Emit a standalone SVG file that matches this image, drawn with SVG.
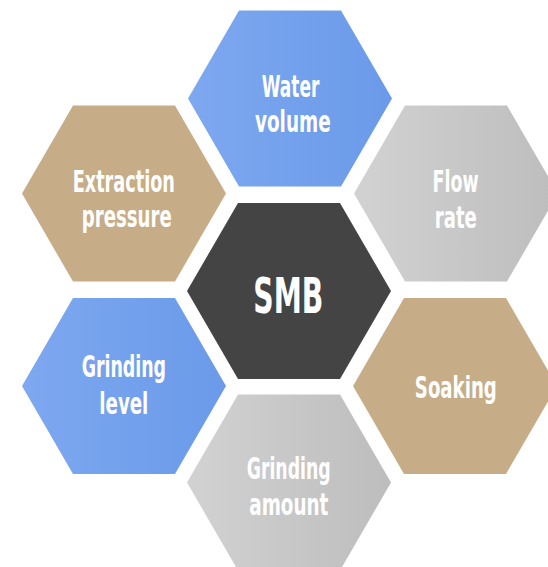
<svg xmlns="http://www.w3.org/2000/svg" xmlns:xlink="http://www.w3.org/1999/xlink" width="548" height="567" viewBox="0 0 548 567">
  <style>
    .lbl { font-family: "DejaVu Sans Condensed", "DejaVu Sans", "Liberation Sans", sans-serif; font-stretch: condensed; font-weight: bold; fill: #ffffff; text-anchor: middle; font-size: 31px; }
    .big { font-size: 50px; }
    .blue { fill: url(#gBlue); }
    .gray { fill: url(#gGray); }
    .tan { fill: #c6ad88; }
    .dark { fill: #444444; }
  </style>
  <defs>
    <linearGradient id="gBlue" x1="0" y1="0" x2="1" y2="0">
      <stop offset="0" stop-color="#7ea8f0"/>
      <stop offset="1" stop-color="#6a9ae9"/>
    </linearGradient>
    <linearGradient id="gGray" x1="0" y1="0" x2="1" y2="0">
      <stop offset="0" stop-color="#d2d2d2"/>
      <stop offset="1" stop-color="#bdbdbd"/>
    </linearGradient>
    <polygon id="hex" points="-102,0 -51,-88 51,-88 102,0 51,88 -51,88"/>
  </defs>
  <rect width="548" height="567" fill="#ffffff"/>

  <g id="connectors"></g>

  <g id="water-volume" transform="translate(290,98.5)">
    <use href="#hex" xlink:href="#hex" class="blue"/>
    <text class="lbl" x="0.5" y="-1.8" textLength="57.6" lengthAdjust="spacingAndGlyphs">Water</text>
    <text class="lbl" x="2.8" y="33.2" textLength="75.7" lengthAdjust="spacingAndGlyphs">volume</text>
  </g>

  <g id="extraction-pressure" transform="translate(124,193.5)">
    <use href="#hex" xlink:href="#hex" class="tan"/>
    <text class="lbl" x="-0.2" y="-1.8" textLength="102.3" lengthAdjust="spacingAndGlyphs">Extraction</text>
    <text class="lbl" x="2.7" y="33.2" textLength="90" lengthAdjust="spacingAndGlyphs">pressure</text>
  </g>

  <g id="flow-rate" transform="translate(456,193.5)">
    <use href="#hex" xlink:href="#hex" class="gray"/>
    <text class="lbl" x="-0.5" y="-1.8" textLength="46" lengthAdjust="spacingAndGlyphs">Flow</text>
    <text class="lbl" x="-0.2" y="34.8" textLength="42" lengthAdjust="spacingAndGlyphs">rate</text>
  </g>

  <g id="smb" transform="translate(289,291)">
    <use href="#hex" xlink:href="#hex" class="dark"/>
    <text class="lbl big" x="-0.7" y="22.3" textLength="70" lengthAdjust="spacingAndGlyphs">SMB</text>
  </g>

  <g id="grinding-level" transform="translate(124,386)">
    <use href="#hex" xlink:href="#hex" class="blue"/>
    <text class="lbl" x="-0.2" y="-9" textLength="84.3" lengthAdjust="spacingAndGlyphs">Grinding</text>
    <text class="lbl" x="-0.2" y="27.5" textLength="49" lengthAdjust="spacingAndGlyphs">level</text>
  </g>

  <g id="soaking" transform="translate(455,386)">
    <use href="#hex" xlink:href="#hex" class="tan"/>
    <text class="lbl" x="0.8" y="12.3" textLength="82" lengthAdjust="spacingAndGlyphs">Soaking</text>
  </g>

  <g id="grinding-amount" transform="translate(289,482.5)">
    <use href="#hex" xlink:href="#hex" class="gray"/>
    <text class="lbl" x="-0.3" y="-3.2" textLength="84" lengthAdjust="spacingAndGlyphs">Grinding</text>
    <text class="lbl" x="-0.2" y="32.5" textLength="79" lengthAdjust="spacingAndGlyphs">amount</text>
  </g>
</svg>
